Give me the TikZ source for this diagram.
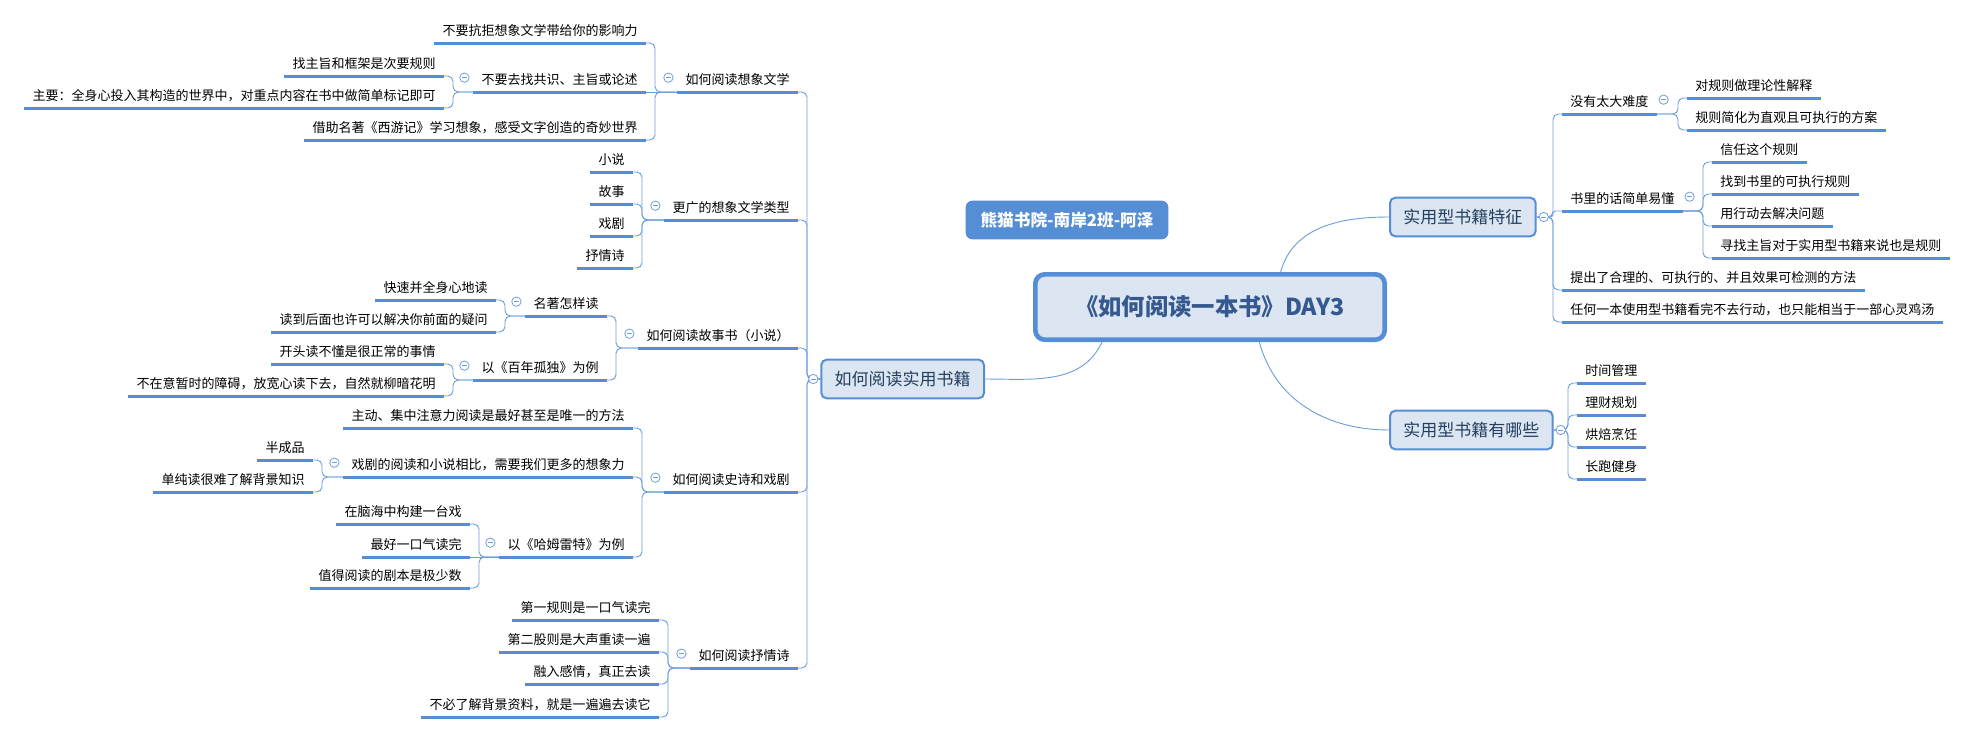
\documentclass[tikz,border=0pt]{standalone}
\usepackage{fontspec}
\setmainfont{Noto Sans CJK SC}
\usetikzlibrary{positioning}
\definecolor{xblue}{HTML}{558ED5}
\definecolor{lineblue}{HTML}{6E9FDB}
\definecolor{boxfill}{HTML}{DCE6F2}
\definecolor{rootblue}{HTML}{35598F}
\definecolor{boxtext}{HTML}{243F60}
\tikzset{
    root/.style={draw=xblue, line width=3.5pt, fill=boxfill, rounded corners=7pt, text=rootblue,
        font=\fontsize{17.5}{21}\selectfont\bfseries, minimum width=262pt, minimum height=49pt},
    badge/.style={fill=xblue, rounded corners=5pt, text=white,
        font=\fontsize{12.5}{15}\selectfont\bfseries, minimum width=152pt, minimum height=29pt},
    topic/.style={draw=xblue, line width=1.5pt, fill=boxfill, rounded corners=4pt, text=boxtext,
        font=\fontsize{12.75}{15}\selectfont, inner xsep=10pt, minimum height=29pt},
    uline/.style={draw=xblue, line width=2.25pt},
    leaf/.style={font=\fontsize{9.75}{12}\selectfont, inner xsep=6pt, inner ysep=3.3pt,
        text height=8.5pt, text depth=2pt,
        append after command={(\tikzlastnode.south west) edge[uline] (\tikzlastnode.south east)}},
    lside/.style={leaf, anchor=south east},
    rside/.style={leaf, anchor=south west},
    link/.style={draw=lineblue, line width=0.7pt, rounded corners=4pt},
    fold/.style={circle, draw=lineblue, fill=white, line width=0.6pt, minimum size=7pt, inner sep=0pt,
        path picture={\draw[lineblue, line width=0.6pt]
            ([xshift=-2pt]path picture bounding box.center) -- ([xshift=2pt]path picture bounding box.center);}}
}
\begin{document}
\begin{tikzpicture}[x=0.75pt, y=-0.75pt]
    \useasboundingbox (0,0) rectangle (1974,733);

    \node[root] (root) at (1210,307) {《如何阅读一本书》DAY3};
    \node[badge] (badge) at (1067,220) {熊猫书院-南岸2班-阿泽};

    \node[topic, anchor=west] (t1) at (1389,217) {实用型书籍特征};
    \node[topic, anchor=west] (t2) at (1389,430) {实用型书籍有哪些};
    \node[topic, anchor=east] (t3) at (985,379) {如何阅读实用书籍};

    \node[lside] (a1) at (798,92) {如何阅读想象文学};
    \node[lside] (a11) at (646,43) {不要抗拒想象文学带给你的影响力};
    \node[lside] (a12) at (646,92) {不要去找共识、主旨或论述};
    \node[lside] (a121) at (444,76) {找主旨和框架是次要规则};
    \node[lside] (a122) at (444,108) {主要：全身心投入其构造的世界中，对重点内容在书中做简单标记即可};
    \node[lside] (a13) at (646,140) {借助名著《西游记》学习想象，感受文字创造的奇妙世界};
    \node[lside] (a2) at (798,220) {更广的想象文学类型};
    \node[lside] (a21) at (633,172) {小说};
    \node[lside] (a22) at (633,204) {故事};
    \node[lside] (a23) at (633,236) {戏剧};
    \node[lside] (a24) at (633,268) {抒情诗};
    \node[lside] (a3) at (798,348) {如何阅读故事书（小说）};
    \node[lside] (a31) at (607,316) {名著怎样读};
    \node[lside] (a311) at (496,300) {快速并全身心地读};
    \node[lside] (a312) at (496,332) {读到后面也许可以解决你前面的疑问};
    \node[lside] (a32) at (607,380) {以《百年孤独》为例};
    \node[lside] (a321) at (444,364) {开头读不懂是很正常的事情};
    \node[lside] (a322) at (444,396) {不在意暂时的障碍，放宽心读下去，自然就柳暗花明};
    \node[lside] (a4) at (798,492) {如何阅读史诗和戏剧};
    \node[lside] (a41) at (633,428) {主动、集中注意力阅读是最好甚至是唯一的方法};
    \node[lside] (a42) at (633,477) {戏剧的阅读和小说相比，需要我们更多的想象力};
    \node[lside] (a421) at (313,460) {半成品};
    \node[lside] (a422) at (313,492) {单纯读很难了解背景知识};
    \node[lside] (a43) at (633,557) {以《哈姆雷特》为例};
    \node[lside] (a431) at (470,524) {在脑海中构建一台戏};
    \node[lside] (a432) at (470,557) {最好一口气读完};
    \node[lside] (a433) at (470,588) {值得阅读的剧本是极少数};
    \node[lside] (a5) at (798,668) {如何阅读抒情诗};
    \node[lside] (a51) at (659,620) {第一规则是一口气读完};
    \node[lside] (a52) at (659,652) {第二股则是大声重读一遍};
    \node[lside] (a53) at (659,684) {融入感情，真正去读};
    \node[lside] (a54) at (659,717) {不必了解背景资料，就是一遍遍去读它};

    \node[rside] (b1) at (1562,114) {没有太大难度};
    \node[rside] (b11) at (1687,98) {对规则做理论性解释};
    \node[rside] (b12) at (1687,130) {规则简化为直观且可执行的方案};
    \node[rside] (b2) at (1562,211) {书里的话简单易懂};
    \node[rside] (b21) at (1712,162) {信任这个规则};
    \node[rside] (b22) at (1712,194) {找到书里的可执行规则};
    \node[rside] (b23) at (1712,226) {用行动去解决问题};
    \node[rside] (b24) at (1712,258) {寻找主旨对于实用型书籍来说也是规则};
    \node[rside] (b3) at (1562,290) {提出了合理的、可执行的、并且效果可检测的方法};
    \node[rside] (b4) at (1562,322) {任何一本使用型书籍看完不去行动，也只能相当于一部心灵鸡汤};
    \node[rside] (c1) at (1577,383) {时间管理};
    \node[rside] (c2) at (1577,415) {理财规划};
    \node[rside] (c3) at (1577,447) {烘焙烹饪};
    \node[rside] (c4) at (1577,479) {长跑健身};

    \draw[link] ([xshift=53pt]root.north) to[out=75, in=180] (t1.west);
    \draw[link] ([xshift=37pt]root.south) to[out=-75, in=180] (t2.west);
    \draw[link] ([xshift=-81pt]root.south) to[out=-115, in=0] (t3.east);

    \foreach \c in {a1,a2,a3,a4,a5}
        \draw[link] (\c.south east) -- ++(9,0) |- (t3.west);
    \foreach \p/\c in {a1/a11, a1/a13, a12/a121, a12/a122, a2/a21, a2/a22, a2/a23, a2/a24,
            a3/a31, a3/a32, a31/a311, a31/a312, a32/a321, a32/a322, a4/a41, a4/a42, a4/a43,
            a42/a421, a42/a422, a43/a431, a43/a433, a5/a51, a5/a52, a5/a53, a5/a54}
        \draw[link] (\c.south east) -- ++(9,0) |- (\p.south west);
    \draw[link] (a12.south east) -- (a1.south west);
    \draw[link] (a432.south east) -- (a43.south west);

    \foreach \c in {b1,b3,b4}
        \draw[link] (\c.south west) -- ++(-9,0) |- (t1.east);
    \draw[link, rounded corners=2pt] (b2.south west) -- ++(-9,0) |- (t1.east);
    \foreach \p/\c in {b1/b11, b1/b12, b2/b21, b2/b22, b2/b23, b2/b24}
        \draw[link] (\c.south west) -- ++(-9,0) |- (\p.south east);
    \foreach \c in {c1,c2,c3,c4}
        \draw[link] (\c.south west) -- ++(-9,0) |- (t2.east);

    \foreach \n in {a1,a12,a2,a3,a31,a32,a4,a42,a43,a5}
        \node[fold, left=3pt of \n.west, yshift=2pt] (f\n) {};
    \foreach \n in {b1,b2}
        \node[fold, right=1.5pt of \n.east, yshift=2pt] (f\n) {};
    \node[fold, right=1.5pt of t1.east] (ft1) {};
    \node[fold, right=1.5pt of t2.east] (ft2) {};
    \node[fold, left=1.5pt of t3.west] (ft3) {};
\end{tikzpicture}
\end{document}
